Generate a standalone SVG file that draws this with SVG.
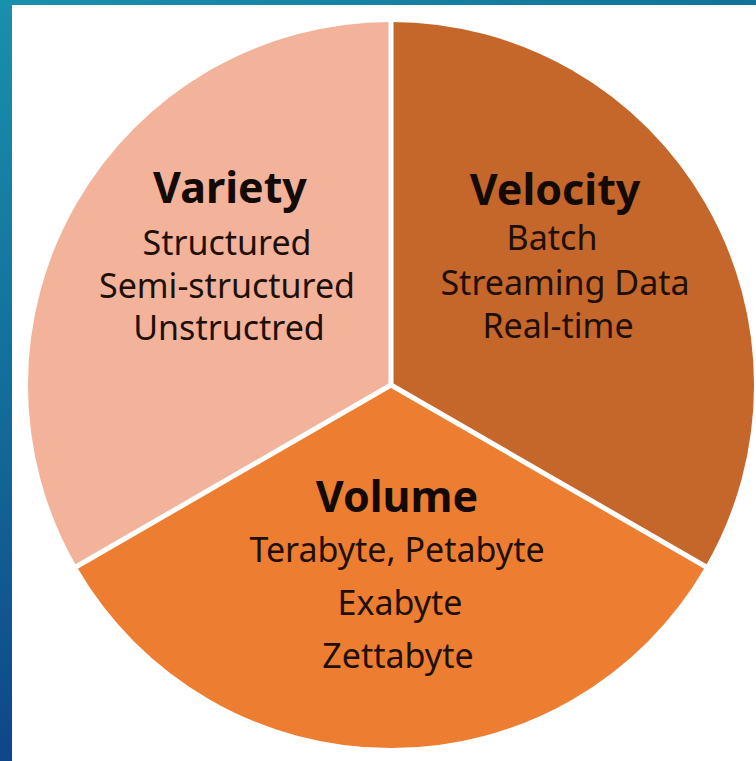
<svg xmlns="http://www.w3.org/2000/svg" width="756" height="761" viewBox="0 0 756 761">
  <defs>
    <linearGradient id="frame" x1="0" y1="0" x2="0.3" y2="1">
      <stop offset="0" stop-color="#1990ac"/>
      <stop offset="0.5" stop-color="#136b9a"/>
      <stop offset="1" stop-color="#0e3f86"/>
    </linearGradient>
    <linearGradient id="topband" x1="0" y1="0" x2="1" y2="0">
      <stop offset="0" stop-color="#1990ac"/>
      <stop offset="1" stop-color="#12729a"/>
    </linearGradient>
    <style>
      .sep { stroke: #ffffff; stroke-width: 5; fill: none; }
      .title { font-family: "Noto Sans", "Open Sans", sans-serif; font-weight: 700; font-size: 43px; fill: #140a05; text-anchor: middle; }
      .item { font-family: "Noto Sans", "Open Sans", sans-serif; font-size: 34px; fill: #1e0f08; text-anchor: middle; }
    </style>
  </defs>

  <!-- slide frame -->
  <rect x="0" y="0" width="756" height="761" fill="url(#frame)"/>
  <rect x="0" y="0" width="756" height="6" fill="url(#topband)"/>
  <rect x="12" y="5" width="744" height="756" fill="#ffffff"/>

  <!-- pie sectors: centre (391,385), r=363 -->
  <g id="variety">
    <path d="M391,385 L76.6,566.5 A363,363 0 0 1 391,22 Z" fill="#f2b39a"/>
    <text class="title" x="230" y="203">Variety</text>
    <text class="item" x="227" y="255">Structured</text>
    <text class="item" x="227" y="298">Semi-structured</text>
    <text class="item" x="229" y="340">Unstructred</text>
  </g>
  <g id="velocity">
    <path d="M391,385 L391,22 A363,363 0 0 1 705.4,566.5 Z" fill="#c5662a"/>
    <text class="title" x="555" y="205">Velocity</text>
    <text class="item" x="552" y="250">Batch</text>
    <text class="item" x="565" y="295">Streaming Data</text>
    <text class="item" x="558" y="338">Real-time</text>
  </g>
  <g id="volume">
    <path d="M391,385 L705.4,566.5 A363,363 0 0 1 76.6,566.5 Z" fill="#ed7d31"/>
    <text class="title" x="397" y="512">Volume</text>
    <text class="item" x="397" y="562">Terabyte, Petabyte</text>
    <text class="item" x="400" y="615">Exabyte</text>
    <text class="item" x="398" y="668">Zettabyte</text>
  </g>

  <!-- sector dividers -->
  <g id="connectors">
    <line class="sep" x1="391" y1="385" x2="391" y2="20"/>
    <line class="sep" x1="391" y1="385" x2="74" y2="568"/>
    <line class="sep" x1="391" y1="385" x2="708" y2="568"/>
  </g>
</svg>
